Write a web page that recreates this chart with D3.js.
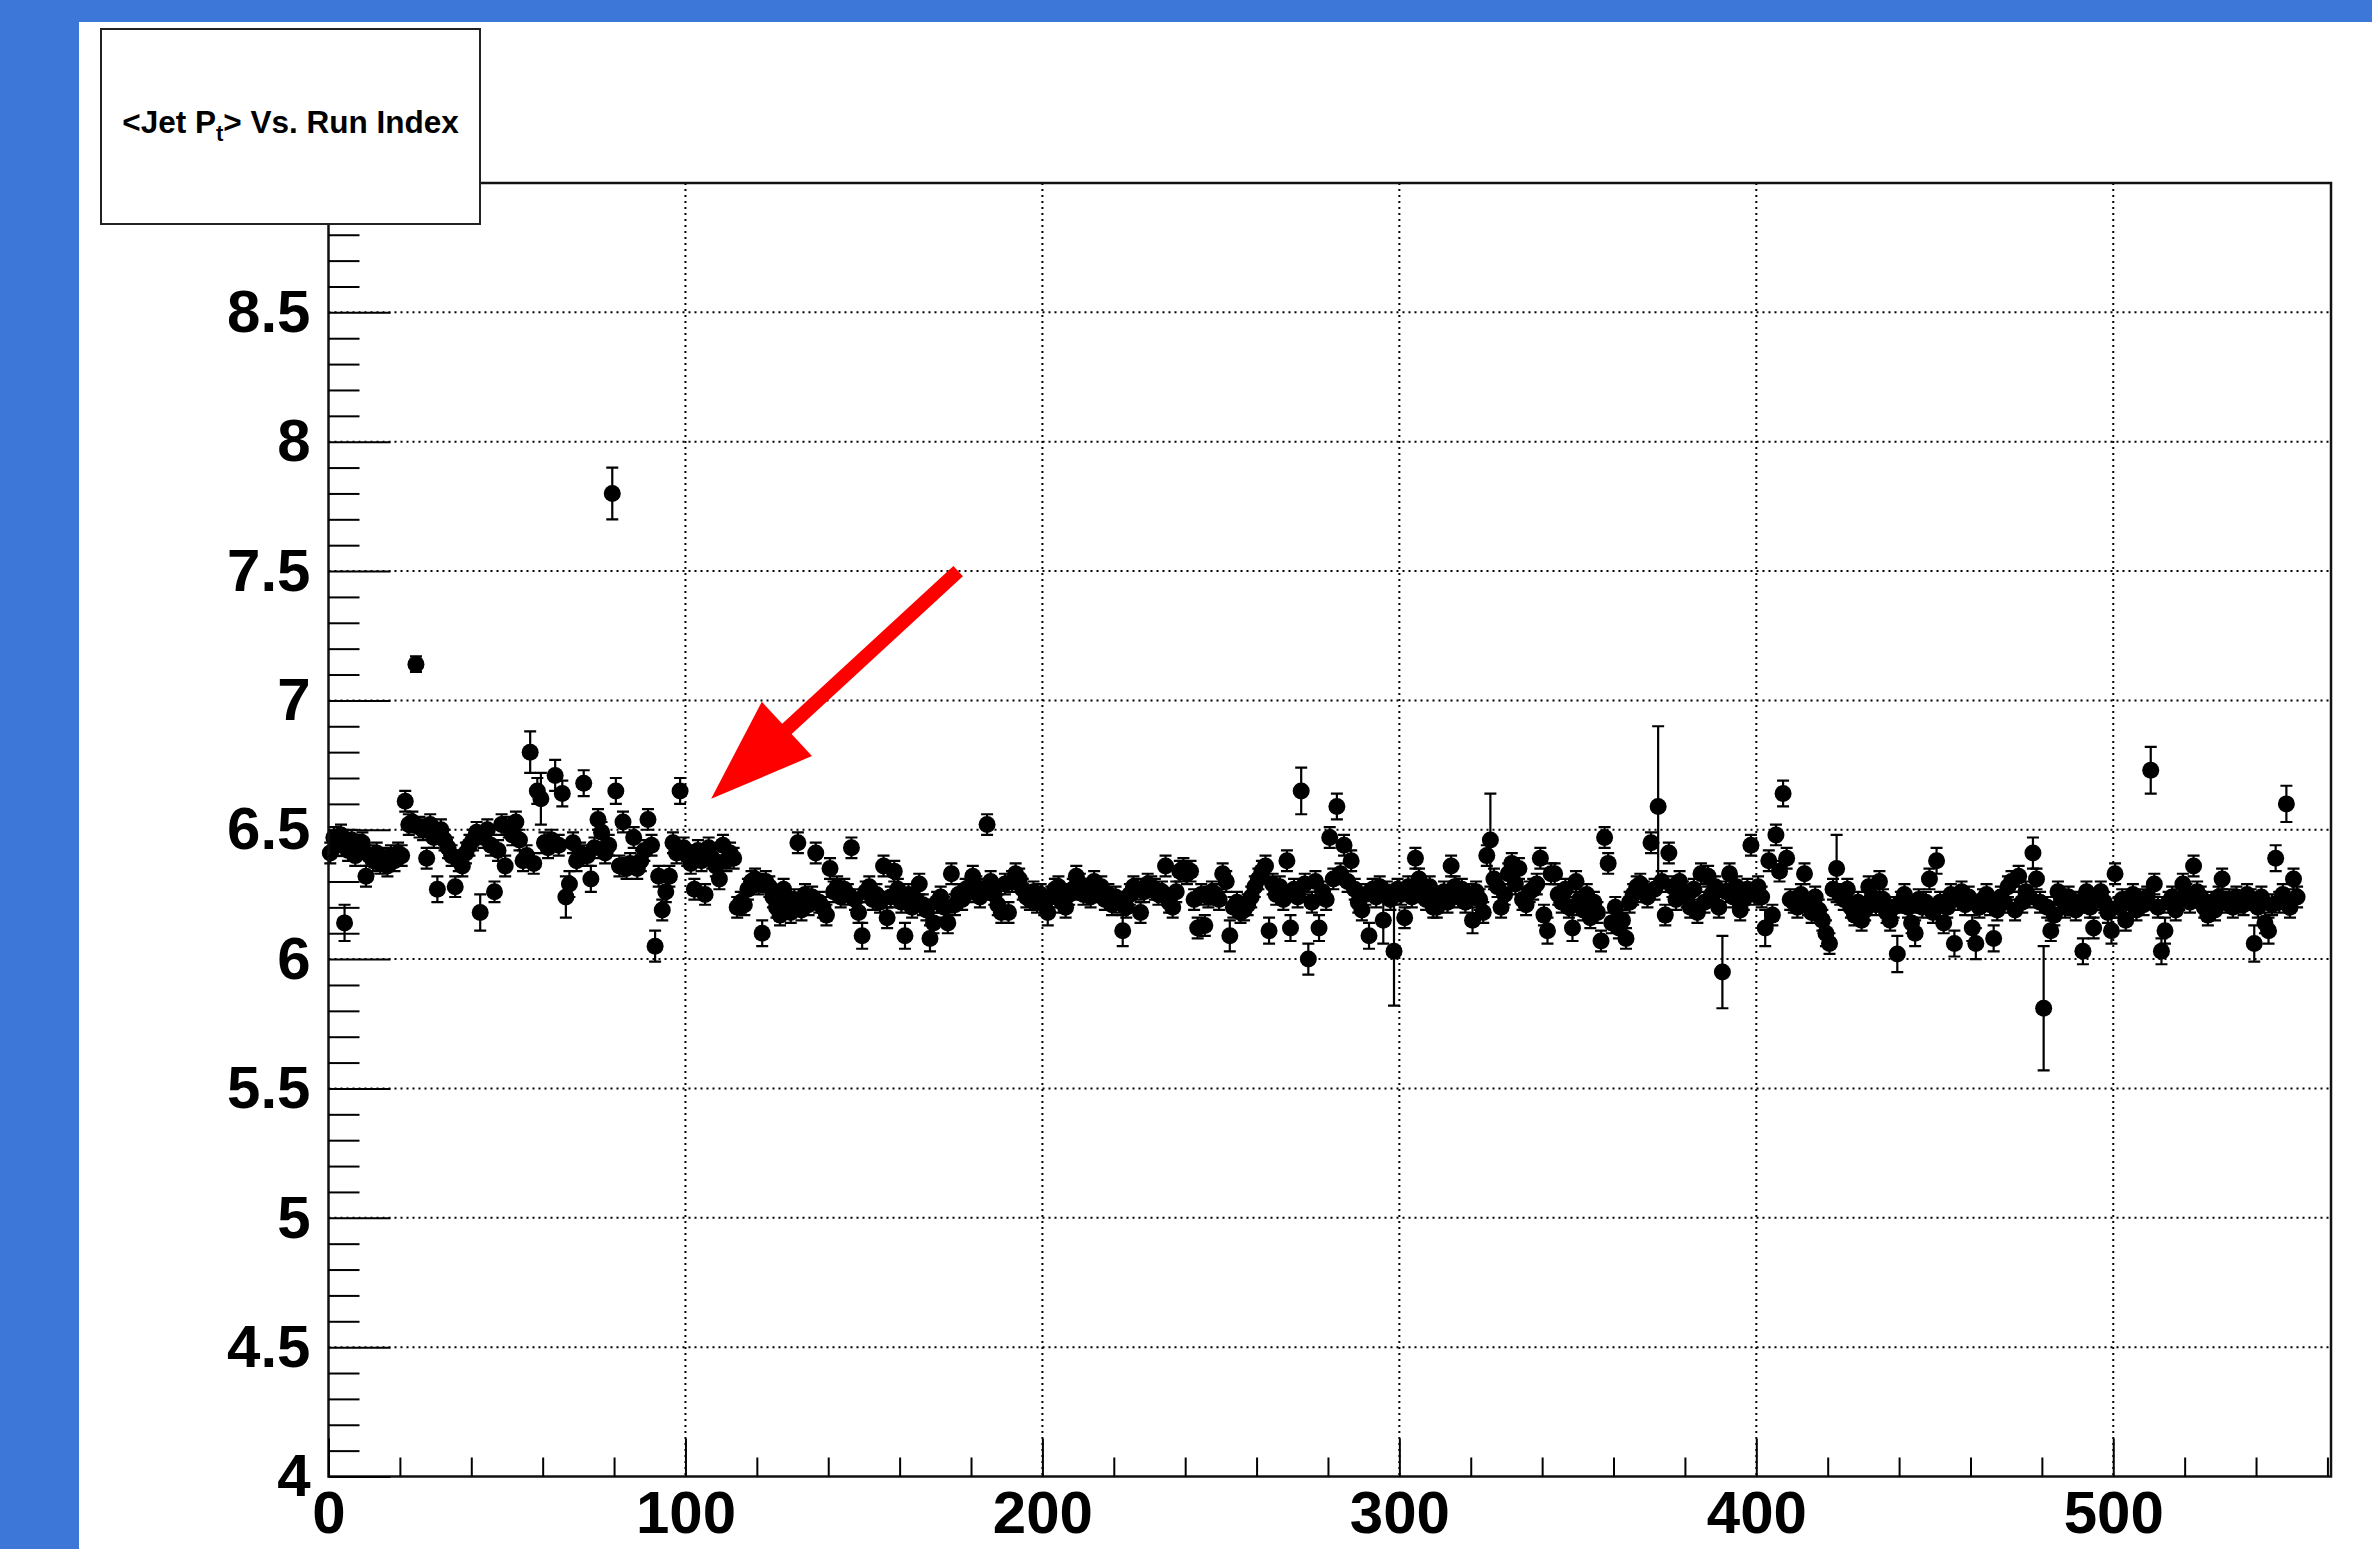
<!DOCTYPE html>
<html>
<head>
<meta charset="utf-8">
<script src="https://cdn.jsdelivr.net/npm/d3@7"></script>
<style>
	body { margin: 0; background: #3d78d8; }
	svg { display: block; }
	text { font-family: "Liberation Sans", Arial, Helvetica, sans-serif; font-weight: bold; }
</style>
</head>
<body>
<svg id="chart" width="2372" height="1549"></svg>
<script>
/**
 * Data.
 */
var titleParts = ["<Jet P", "t", "> Vs. Run Index"]; // main text, subscript, rest.
var xDomain = [0, 561];
var yDomain = [4, 9];
var xMajorTicks = [0, 100, 200, 300, 400, 500];
var xTickLabels = ["0", "100", "200", "300", "400", "500"];
var yMajorTicks = [4, 4.5, 5, 5.5, 6, 6.5, 7, 7.5, 8, 8.5, 9];
var yTickLabels = ["4", "4.5", "5", "5.5", "6", "6.5", "7", "7.5", "8", "8.5", "9"];

// <Jet Pt> per run, one value per run index bin (bin i is centred on i + 0.5).
var runMean = [
	6.41, 6.47, 6.44, 6.48, 6.14, 6.42, 6.46, 6.40, 6.44, 6.45,
	6.32, 6.40, 6.38, 6.41, 6.37, 6.39, 6.36, 6.40, 6.38, 6.41,
	6.40, 6.61, 6.52, 6.53, 7.14, 6.51, 6.50, 6.39, 6.52, 6.47,
	6.27, 6.50, 6.46, 6.43, 6.40, 6.28, 6.38, 6.36, 6.41, 6.44,
	6.46, 6.49, 6.18, 6.47, 6.50, 6.44, 6.26, 6.42, 6.52, 6.36,
	6.51, 6.48, 6.53, 6.46, 6.38, 6.40, 6.80, 6.37, 6.65, 6.62,
	6.45, 6.43, 6.46, 6.71, 6.44, 6.64, 6.24, 6.29, 6.45, 6.38,
	6.41, 6.68, 6.40, 6.31, 6.43, 6.54, 6.49, 6.41, 6.44, 7.80,
	6.65, 6.36, 6.53, 6.35, 6.37, 6.47, 6.35, 6.38, 6.42, 6.54,
	6.44, 6.05, 6.32, 6.19, 6.26, 6.32, 6.45, 6.41, 6.65, 6.43,
	6.40, 6.37, 6.27, 6.42, 6.38, 6.25, 6.43, 6.39, 6.36, 6.31,
	6.44, 6.38, 6.41, 6.39, 6.20, 6.22, 6.21, 6.27, 6.30, 6.31,
	6.29, 6.10, 6.30, 6.28, 6.24, 6.20, 6.17, 6.27, 6.22, 6.18,
	6.23, 6.45, 6.19, 6.25, 6.21, 6.24, 6.41, 6.22, 6.20, 6.17,
	6.35, 6.26, 6.28, 6.24, 6.27, 6.25, 6.43, 6.23, 6.18, 6.09,
	6.26, 6.28, 6.23, 6.25, 6.22, 6.36, 6.16, 6.24, 6.34, 6.27,
	6.22, 6.09, 6.25, 6.20, 6.23, 6.29, 6.21, 6.19, 6.08, 6.14,
	6.22, 6.24, 6.20, 6.14, 6.33, 6.21, 6.25, 6.23, 6.27, 6.26,
	6.32, 6.28, 6.24, 6.27, 6.52, 6.30, 6.25, 6.21, 6.18, 6.29,
	6.18, 6.30, 6.33, 6.31, 6.27, 6.24, 6.23, 6.26, 6.22, 6.25,
	6.21, 6.18, 6.24, 6.27, 6.28, 6.22, 6.20, 6.25, 6.27, 6.32,
	6.29, 6.25, 6.27, 6.24, 6.30, 6.26, 6.28, 6.23, 6.25, 6.21,
	6.24, 6.22, 6.11, 6.20, 6.25, 6.28, 6.27, 6.18, 6.26, 6.29,
	6.28, 6.27, 6.25, 6.26, 6.36, 6.22, 6.20, 6.26, 6.34, 6.35,
	6.33, 6.34, 6.23, 6.12, 6.25, 6.13, 6.24, 6.26, 6.25, 6.23,
	6.33, 6.30, 6.09, 6.20, 6.22, 6.18, 6.19, 6.21, 6.24, 6.28,
	6.31, 6.34, 6.36, 6.11, 6.29, 6.25, 6.28, 6.23, 6.38, 6.12,
	6.27, 6.24, 6.65, 6.29, 6.00, 6.22, 6.30, 6.12, 6.26, 6.23,
	6.47, 6.31, 6.59, 6.33, 6.44, 6.30, 6.38, 6.27, 6.22, 6.19,
	6.25, 6.09, 6.27, 6.24, 6.28, 6.15, 6.26, 6.23, 6.03, 6.27,
	6.25, 6.16, 6.28, 6.24, 6.39, 6.31, 6.26, 6.23, 6.28, 6.20,
	6.20, 6.24, 6.26, 6.22, 6.36, 6.28, 6.24, 6.27, 6.22, 6.25,
	6.15, 6.26, 6.23, 6.18, 6.40, 6.46, 6.31, 6.28, 6.20, 6.25,
	6.33, 6.37, 6.29, 6.35, 6.23, 6.21, 6.26, 6.27, 6.29, 6.39,
	6.17, 6.11, 6.33, 6.33, 6.25, 6.22, 6.27, 6.20, 6.12, 6.30,
	6.23, 6.19, 6.25, 6.16, 6.22, 6.18, 6.07, 6.47, 6.37, 6.14,
	6.20, 6.12, 6.15, 6.08, 6.22, 6.25, 6.28, 6.29, 6.26, 6.24,
	6.45, 6.27, 6.59, 6.30, 6.17, 6.41, 6.28, 6.23, 6.30, 6.26,
	6.24, 6.20, 6.27, 6.18, 6.33, 6.22, 6.32, 6.25, 6.28, 6.20,
	5.95, 6.26, 6.33, 6.24, 6.28, 6.19, 6.23, 6.27, 6.44, 6.25,
	6.28, 6.24, 6.12, 6.38, 6.17, 6.48, 6.34, 6.64, 6.39, 6.23,
	6.22, 6.20, 6.25, 6.33, 6.21, 6.18, 6.24, 6.19, 6.15, 6.10,
	6.06, 6.27, 6.35, 6.25, 6.23, 6.27, 6.20, 6.17, 6.22, 6.15,
	6.19, 6.28, 6.24, 6.21, 6.30, 6.23, 6.18, 6.15, 6.20, 6.02,
	6.22, 6.25, 6.20, 6.14, 6.10, 6.23, 6.20, 6.22, 6.31, 6.18,
	6.38, 6.22, 6.14, 6.20, 6.25, 6.06, 6.23, 6.26, 6.21, 6.24,
	6.12, 6.06, 6.20, 6.23, 6.25, 6.21, 6.08, 6.19, 6.24, 6.22,
	6.28, 6.30, 6.19, 6.32, 6.22, 6.26, 6.24, 6.41, 6.31, 6.22,
	5.81, 6.20, 6.11, 6.17, 6.26, 6.23, 6.20, 6.24, 6.21, 6.19,
	6.22, 6.03, 6.26, 6.20, 6.12, 6.23, 6.26, 6.22, 6.18, 6.11,
	6.33, 6.20, 6.23, 6.15, 6.22, 6.25, 6.19, 6.23, 6.21, 6.24,
	6.73, 6.29, 6.20, 6.03, 6.11, 6.22, 6.24, 6.19, 6.23, 6.29,
	6.25, 6.22, 6.36, 6.26, 6.24, 6.20, 6.17, 6.22, 6.19, 6.24,
	6.31, 6.22, 6.23, 6.20, 6.24, 6.22, 6.21, 6.25, 6.23, 6.06,
	6.20, 6.24, 6.14, 6.11, 6.21, 6.39, 6.22, 6.25, 6.60, 6.20,
	6.31, 6.24
];

// Error on each value, in hundredths.
var runError = [
	4, 4, 4, 4, 7, 4, 4, 4, 4, 4,
	4, 4, 4, 4, 4, 4, 4, 4, 4, 4,
	4, 4, 4, 4, 3, 4, 4, 4, 4, 4,
	5, 4, 4, 4, 4, 4, 4, 4, 4, 4,
	4, 4, 7, 4, 4, 4, 4, 4, 4, 4,
	4, 4, 4, 4, 4, 4, 8, 4, 5, 10,
	4, 4, 4, 6, 4, 5, 8, 5, 4, 4,
	4, 5, 4, 5, 4, 4, 4, 4, 4, 10,
	5, 4, 4, 4, 4, 4, 4, 4, 4, 4,
	4, 6, 4, 4, 4, 4, 4, 4, 5, 4,
	4, 4, 4, 4, 4, 4, 4, 4, 4, 4,
	4, 4, 4, 4, 4, 4, 4, 4, 4, 4,
	4, 5, 4, 4, 4, 4, 4, 4, 4, 4,
	4, 4, 4, 4, 4, 4, 4, 4, 4, 4,
	4, 4, 4, 4, 4, 4, 4, 4, 4, 5,
	4, 4, 4, 4, 4, 4, 4, 4, 4, 4,
	4, 5, 4, 4, 4, 4, 4, 4, 5, 4,
	4, 4, 4, 4, 4, 4, 4, 4, 4, 4,
	4, 4, 4, 4, 4, 4, 4, 4, 4, 4,
	4, 4, 4, 4, 4, 4, 4, 4, 4, 4,
	4, 5, 4, 4, 4, 4, 4, 4, 4, 4,
	4, 4, 4, 4, 4, 4, 4, 4, 4, 4,
	4, 4, 6, 4, 4, 4, 4, 4, 4, 4,
	4, 4, 4, 4, 4, 4, 4, 4, 4, 4,
	4, 4, 4, 4, 4, 4, 4, 4, 4, 4,
	4, 4, 6, 4, 4, 4, 4, 4, 4, 4,
	4, 4, 4, 5, 4, 4, 4, 4, 4, 5,
	4, 4, 9, 4, 6, 4, 4, 5, 4, 4,
	4, 4, 5, 4, 4, 4, 4, 4, 4, 4,
	4, 5, 4, 4, 4, 9, 4, 4, 21, 4,
	4, 4, 4, 4, 4, 4, 4, 4, 4, 4,
	4, 4, 4, 4, 4, 4, 4, 4, 4, 4,
	5, 4, 4, 4, 4, 18, 4, 4, 4, 4,
	4, 4, 4, 4, 4, 4, 4, 4, 4, 4,
	4, 5, 4, 4, 4, 4, 4, 4, 5, 4,
	4, 4, 4, 4, 4, 4, 4, 4, 4, 4,
	4, 4, 4, 4, 4, 4, 4, 4, 4, 4,
	4, 4, 31, 4, 4, 4, 4, 4, 4, 4,
	4, 4, 4, 4, 4, 4, 4, 4, 4, 4,
	14, 4, 4, 4, 4, 4, 4, 4, 4, 4,
	4, 4, 7, 4, 4, 4, 4, 5, 4, 4,
	4, 4, 4, 4, 4, 4, 4, 4, 4, 5,
	4, 4, 13, 4, 4, 4, 4, 4, 4, 4,
	4, 4, 4, 4, 4, 4, 4, 4, 4, 7,
	4, 4, 4, 4, 5, 4, 4, 4, 4, 4,
	5, 4, 4, 4, 4, 5, 4, 4, 4, 4,
	5, 6, 4, 4, 4, 4, 5, 4, 4, 4,
	4, 4, 4, 4, 4, 4, 4, 6, 4, 4,
	24, 4, 4, 4, 4, 4, 4, 4, 4, 4,
	4, 5, 4, 4, 4, 4, 4, 4, 4, 5,
	4, 4, 4, 4, 4, 4, 4, 4, 4, 4,
	9, 4, 4, 5, 5, 4, 4, 4, 4, 4,
	4, 4, 4, 4, 4, 4, 4, 4, 4, 4,
	4, 4, 4, 4, 4, 4, 4, 4, 4, 7,
	4, 4, 4, 5, 4, 5, 4, 4, 7, 4,
	4, 4
];

// Red arrow, tail and tip in data coordinates.
var arrowTail = [176.4, 7.50];
var arrowTip = [107.2, 6.62];

{
	var width = 2372,
		height = 1549;

	var frame = {
			left: 328.5,
			right: 2331,
			top: 183,
			bottom: 1476.5
		},
		majorTickX = 38,
		majorTickY = 62,
		fontSize = 60,
		markerRadius = 8.5;

	var x = d3.scaleLinear().domain(xDomain).range([frame.left, frame.right]);
	var y = d3.scaleLinear().domain(yDomain).range([frame.bottom, frame.top]);

	var svg = d3.select("#chart");

	// Blue page, white canvas.
	svg.append("rect")
		.attr("width", width)
		.attr("height", height)
		.attr("fill", "#3d78d8");
	svg.append("rect")
		.attr("x", 79)
		.attr("y", 22)
		.attr("width", width - 79)
		.attr("height", height - 22)
		.attr("fill", "#ffffff");

	// Dotted grid at the major ticks.
	var grid = svg.append("g")
		.attr("stroke", "#000")
		.attr("stroke-width", 2)
		.attr("stroke-dasharray", "2,4");
	grid.selectAll(".gx")
		.data(xMajorTicks.filter(d => d > xDomain[0]))
		.enter().append("line")
		.attr("x1", d => x(d)).attr("x2", d => x(d))
		.attr("y1", frame.top).attr("y2", frame.bottom);
	grid.selectAll(".gy")
		.data(yMajorTicks.filter(d => d > yDomain[0] && d < yDomain[1]))
		.enter().append("line")
		.attr("x1", frame.left).attr("x2", frame.right)
		.attr("y1", d => y(d)).attr("y2", d => y(d));

	// Points with error bars.
	var points = runMean.map(function (v, i) {
		return { x: i + 0.5, y: v, e: runError[i] / 100 };
	});

	var bars = svg.append("g")
		.attr("stroke", "#000")
		.attr("stroke-width", 2.2);
	bars.selectAll(".bar")
		.data(points)
		.enter().append("path")
		.attr("fill", "none")
		.attr("d", function (d) {
			var px = x(d.x),
				lo = y(d.y - d.e),
				hi = y(d.y + d.e),
				c = 6;
			return "M" + px + "," + lo + "V" + hi +
				"M" + (px - c) + "," + hi + "H" + (px + c) +
				"M" + (px - c) + "," + lo + "H" + (px + c);
		});

	svg.append("g")
		.selectAll("circle")
		.data(points)
		.enter().append("circle")
		.attr("cx", d => x(d.x))
		.attr("cy", d => y(d.y))
		.attr("r", markerRadius)
		.attr("fill", "#000");

	// Frame.
	svg.append("rect")
		.attr("x", frame.left)
		.attr("y", frame.top)
		.attr("width", frame.right - frame.left)
		.attr("height", frame.bottom - frame.top)
		.attr("fill", "none")
		.attr("stroke", "#111")
		.attr("stroke-width", 2.5);

	// Axes, ticks pointing inside the frame.
	svg.append("g")
		.attr("transform", "translate(0," + frame.bottom + ")")
		.call(d3.axisBottom(x)
			.tickValues(xMajorTicks)
			.tickSize(-majorTickX)
			.tickPadding(14)
			.tickFormat((d, i) => xTickLabels[i]));
	svg.append("g")
		.attr("transform", "translate(0," + frame.bottom + ")")
		.call(d3.axisBottom(x)
			.tickValues(d3.range(20, xDomain[1], 20).filter(d => d % 100 != 0))
			.tickSize(-majorTickX / 2)
			.tickFormat(""));

	svg.append("g")
		.attr("transform", "translate(" + frame.left + ",0)")
		.call(d3.axisLeft(y)
			.tickValues(yMajorTicks)
			.tickSize(-majorTickY)
			.tickPadding(18)
			.tickFormat((d, i) => yTickLabels[i]));
	svg.append("g")
		.attr("transform", "translate(" + frame.left + ",0)")
		.call(d3.axisLeft(y)
			.tickValues(d3.range(41, 90).map(d => d / 10).filter(d => Math.round(d * 10) % 5 != 0))
			.tickSize(-majorTickY / 2)
			.tickFormat(""));

	svg.selectAll(".domain").remove();
	svg.selectAll(".tick line")
		.attr("stroke", "#000")
		.attr("stroke-width", 2);
	svg.selectAll(".tick text")
		.attr("fill", "#000")
		.style("font-size", fontSize + "px")
		.style("font-family", "'Liberation Sans', Arial, sans-serif")
		.style("font-weight", "bold");

	// Red arrow.
	var tail = [x(arrowTail[0]), y(arrowTail[1])],
		tip = [x(arrowTip[0]), y(arrowTip[1])],
		len = Math.hypot(tail[0] - tip[0], tail[1] - tip[1]),
		u = [(tail[0] - tip[0]) / len, (tail[1] - tip[1]) / len],
		n = [-u[1], u[0]],
		headLen = 103,
		headHalf = 37,
		base = [tip[0] + u[0] * headLen, tip[1] + u[1] * headLen];

	var arrow = svg.append("g");
	arrow.append("line")
		.attr("x1", tail[0]).attr("y1", tail[1])
		.attr("x2", base[0] - u[0] * 4).attr("y2", base[1] - u[1] * 4)
		.attr("stroke", "#ff0000")
		.attr("stroke-width", 14);
	arrow.append("path")
		.attr("fill", "#ff0000")
		.attr("d", "M" + tip[0] + "," + tip[1] +
			"L" + (base[0] + n[0] * headHalf) + "," + (base[1] + n[1] * headHalf) +
			"L" + (base[0] - n[0] * headHalf) + "," + (base[1] - n[1] * headHalf) + "Z");

	// Title box.
	svg.append("rect")
		.attr("x", 101)
		.attr("y", 29)
		.attr("width", 379)
		.attr("height", 195)
		.attr("fill", "#ffffff")
		.attr("stroke", "#222")
		.attr("stroke-width", 2);

	var title = svg.append("text")
		.attr("x", 290.5)
		.attr("y", 133)
		.attr("text-anchor", "middle")
		.style("font-size", "31.5px")
		.attr("fill", "#000");
	title.append("tspan").text(titleParts[0]);
	title.append("tspan").attr("dy", 8).style("font-size", "22px").text(titleParts[1]);
	title.append("tspan").attr("dy", -8).text(titleParts[2]);
}
</script>
</body>
</html>
